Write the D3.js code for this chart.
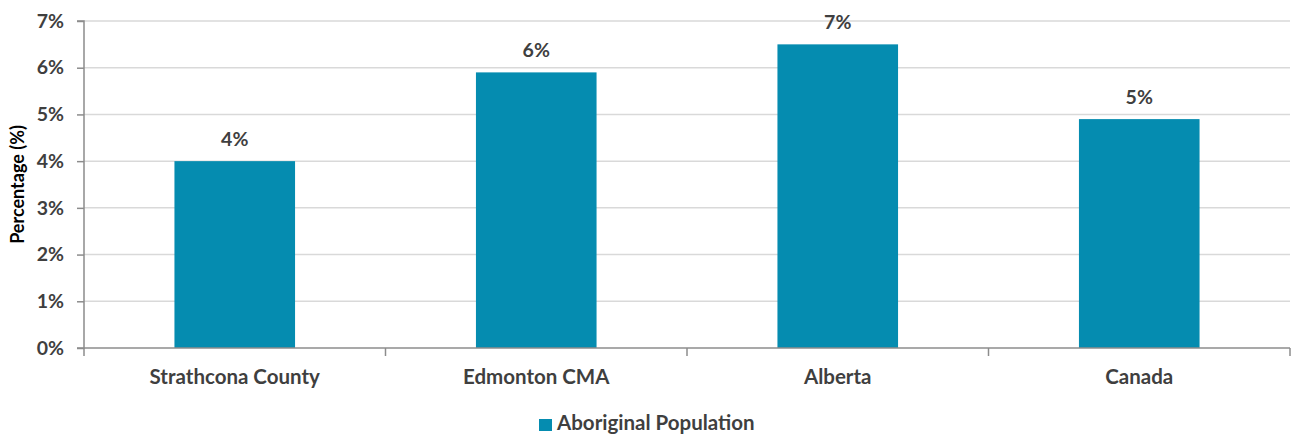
<!DOCTYPE html>
<html>
<head>
<meta charset="utf-8">
<script src="https://cdn.jsdelivr.net/npm/d3@7"></script>
<style>
  body { margin: 0; background: #fff; }
  svg text { font-family: Lato, "Open Sans", sans-serif; font-weight: bold; fill: #3f3f3f; }
</style>
</head>
<body>
<div id="chart"></div>
<script>
const categories = ["Strathcona County", "Edmonton CMA", "Alberta", "Canada"];
const values = [4.0, 5.9, 6.5, 4.9];
const valueLabels = ["4%", "6%", "7%", "5%"];
const yTicks = [0, 1, 2, 3, 4, 5, 6, 7];
const seriesName = "Aboriginal Population";

const width = 1298, height = 434;
const margin = { top: 21, right: 8, bottom: 86, left: 84 };

const svg = d3.select("#chart").append("svg")
    .attr("width", width)
    .attr("height", height);

const x = d3.scaleBand()
    .domain(categories)
    .range([margin.left, width - margin.right])
    .paddingInner(0.6)
    .paddingOuter(0.3);

// band for the category ticks (no padding)
const xCat = d3.scaleBand()
    .domain(categories)
    .range([margin.left, width - margin.right]);

const y = d3.scaleLinear()
    .domain([0, 7])
    .range([height - margin.bottom, margin.top]);

// gridlines
svg.append("g")
    .selectAll("line")
    .data(yTicks.filter(d => d > 0))
    .enter().append("line")
    .attr("x1", margin.left)
    .attr("x2", width - margin.right)
    .attr("y1", d => y(d))
    .attr("y2", d => y(d))
    .attr("stroke", "#d9d9d9")
    .attr("stroke-width", 1.5);

// bars
svg.append("g")
    .selectAll("rect")
    .data(values)
    .enter().append("rect")
    .attr("x", (d, i) => x(categories[i]))
    .attr("y", d => y(d))
    .attr("width", x.bandwidth())
    .attr("height", d => y(0) - y(d))
    .attr("fill", "#058cb0");

// value labels
svg.append("g")
    .selectAll("text")
    .data(values)
    .enter().append("text")
    .attr("x", (d, i) => x(categories[i]) + x.bandwidth() / 2)
    .attr("y", d => y(d) - 15)
    .attr("text-anchor", "middle")
    .style("font-size", "19.5px")
    .text((d, i) => valueLabels[i]);

// y axis
const yAxis = svg.append("g")
    .attr("transform", `translate(${margin.left},0)`)
    .call(d3.axisLeft(y).tickValues(yTicks).tickFormat(d => d + "%").tickSize(7).tickPadding(13));
yAxis.selectAll("text").style("font-size", "19.5px").style("fill", "#3f3f3f");
yAxis.selectAll("line, path").attr("stroke", "#8c8c8c").attr("stroke-width", 1.5);
yAxis.select(".domain").attr("d", `M-7,${y(7)}H0V${y(0)}H-7`);

// x axis
const xAxis = svg.append("g")
    .attr("transform", `translate(0,${y(0)})`);
xAxis.append("line")
    .attr("x1", margin.left)
    .attr("x2", width - margin.right)
    .attr("y1", 0).attr("y2", 0)
    .attr("stroke", "#8c8c8c")
    .attr("stroke-width", 1.5);
const tickPos = categories.map(c => xCat(c)).concat([width - margin.right]);
xAxis.selectAll(".cat-tick")
    .data(tickPos)
    .enter().append("line")
    .attr("class", "cat-tick")
    .attr("x1", d => d).attr("x2", d => d)
    .attr("y1", 0).attr("y2", 8)
    .attr("stroke", "#8c8c8c")
    .attr("stroke-width", 1.5);
xAxis.selectAll(".cat-label")
    .data(categories)
    .enter().append("text")
    .attr("class", "cat-label")
    .attr("x", d => xCat(d) + xCat.bandwidth() / 2)
    .attr("y", 36)
    .attr("text-anchor", "middle")
    .style("font-size", "20.5px")
    .text(d => d);

// y axis title
svg.append("text")
    .attr("transform", `translate(24,${(y(0) + y(7)) / 2}) rotate(-90)`)
    .attr("text-anchor", "middle")
    .style("font-size", "18px")
    .style("fill", "#000")
    .text("Percentage (%)");

// legend
const legend = svg.append("g")
    .attr("transform", "translate(539,419)");
legend.append("rect")
    .attr("width", 13).attr("height", 12)
    .attr("fill", "#058cb0");
legend.append("text")
    .attr("x", 18)
    .attr("y", 11)
    .style("font-size", "20.5px")
    .text(seriesName);
</script>
</body>
</html>
